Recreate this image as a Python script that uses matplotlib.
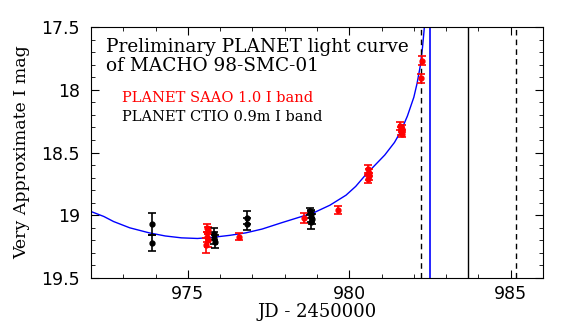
import numpy as np
import matplotlib
matplotlib.use('Agg')
import matplotlib.pyplot as plt

# Model light curve (JD - 2450000, I mag)
model_jd = [972.0, 972.4, 972.7, 973.2, 973.8, 974.3, 974.8, 975.3, 975.8, 976.3, 976.8, 977.3,
            977.9, 978.4, 978.9, 979.4, 979.9, 980.2, 980.5, 980.8, 981.1, 981.4, 981.6, 981.8,
            982.0, 982.1, 982.2, 982.27, 982.32, 982.36]
model_mag = [18.97, 19.01, 19.05, 19.10, 19.14, 19.165, 19.18, 19.185, 19.175, 19.16, 19.14, 19.11,
             19.06, 19.02, 18.98, 18.92, 18.84, 18.77, 18.68, 18.60, 18.52, 18.42, 18.33, 18.21,
             18.06, 17.95, 17.81, 17.66, 17.52, 17.40]

# PLANET SAAO 1.0m I band
saao_jd = [975.6, 975.63, 975.58, 975.62, 975.57, 976.6, 978.6, 979.65,
           980.58, 980.62, 980.6, 980.57, 981.58, 981.62, 981.6, 981.64, 982.22, 982.24]
saao_mag = [19.10, 19.12, 19.17, 19.20, 19.24, 19.17, 19.02, 18.96,
            18.63, 18.66, 18.69, 18.71, 18.29, 18.31, 18.33, 18.35, 17.91, 17.77]
saao_err = [0.03, 0.03, 0.04, 0.05, 0.06, 0.03, 0.04, 0.03,
            0.03, 0.03, 0.03, 0.03, 0.03, 0.03, 0.03, 0.03, 0.035, 0.035]

# PLANET CTIO 0.9m I band
ctio_jd = [973.88, 973.88, 975.82, 975.8, 975.84, 976.84, 976.84,
           978.78, 978.82, 978.8, 978.84, 978.8]
ctio_mag = [19.07, 19.22, 19.15, 19.18, 19.21, 19.02, 19.07,
            18.97, 18.99, 19.01, 19.03, 19.05]
ctio_err = [0.085, 0.065, 0.05, 0.05, 0.05, 0.05, 0.05,
            0.03, 0.03, 0.04, 0.04, 0.06]

# vertical reference lines
dashed_jd = [982.21, 985.18]
blue_jd = 982.5
black_jd = 983.68

W, H = 564, 325
fig = plt.figure(figsize=(W / 100, H / 100), dpi=100)
ax = fig.add_axes([0.1613, 0.1446, 0.8014, 0.7723])

ax.plot(model_jd, model_mag, color='blue', lw=1)
for x in dashed_jd:
    ax.axvline(x, color='black', ls=(0, (4, 3)), lw=1)
ax.axvline(blue_jd, color='blue', lw=1.2)
ax.axvline(black_jd, color='black', lw=1)

ax.errorbar(saao_jd, saao_mag, yerr=saao_err, fmt='o', color='red', ms=3.5,
            capsize=3, elinewidth=1.2, capthick=1.2)
ax.errorbar(ctio_jd, ctio_mag, yerr=ctio_err, fmt='o', color='black', ms=3.5,
            capsize=3, elinewidth=1.2, capthick=1.2)

ax.set_xlim(972, 986)
ax.set_ylim(19.5, 17.5)
ax.set_xticks([975, 980, 985])
ax.set_xticks(np.arange(972, 987, 1), minor=True)
ax.set_yticks([17.5, 18, 18.5, 19, 19.5])
ax.set_yticklabels(['17.5', '18', '18.5', '19', '19.5'])
ax.set_yticks(np.arange(17.5, 19.51, 0.1), minor=True)
ax.tick_params(which='both', direction='in', top=True, right=True, labelsize=12.5)
ax.tick_params(which='major', length=6)
ax.tick_params(which='minor', length=3)
ax.tick_params(axis='x', pad=5)
ax.tick_params(axis='y', pad=8)

ax.set_xlabel('JD - 2450000', family='DejaVu Serif', fontsize=13, labelpad=0)
ax.set_ylabel('Very Approximate I mag', family='DejaVu Serif', fontsize=12.5, labelpad=8)


def label(px, py, s, **kw):
    # place text by pixel position measured from the top-left corner
    fig.text(px / W, 1 - py / H, s, family='DejaVu Serif', va='baseline', **kw)


label(106.5, 52, 'Preliminary PLANET light curve', fontsize=13.3)
label(106.5, 71, 'of MACHO 98-SMC-01', fontsize=13.3)
label(122.5, 102, 'PLANET SAAO 1.0 I band', fontsize=10.5, color='red')
label(122.5, 121, 'PLANET CTIO 0.9m I band', fontsize=10.5, color='black')

fig.savefig('out.png', dpi=100)
